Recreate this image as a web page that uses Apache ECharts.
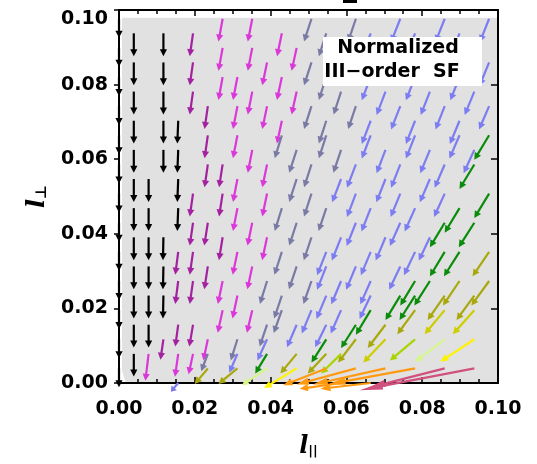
<!DOCTYPE html>
<html><head><meta charset="utf-8">
<script src="https://cdn.jsdelivr.net/npm/echarts@6/dist/echarts.min.js"></script>
<style>html,body{margin:0;padding:0;background:#fff}#chart{width:537px;height:464px}</style>
</head><body><div id="chart"></div>
<script>
// Lag lattice spacing (box units); every arrow tail sits on a lattice point (k, m).
const CELL = 1 / 256;

// Arrows grouped by colour. Each entry: [k, m, du, dv]
// tail at (k, m) cells, arrow vector (du, dv) in cells.
const blackArrows = [
  [0,1,0,-1.3],[0,3,0,-1.3],[0,5,0,-1.3],[0,7,0,-1.3],[0,9,0,-1.3],[0,11,0,-1.3],[0,13,0,-1.3],
  [0,15,0,-1.3],[0,17,0,-1.3],[0,19,0,-1.3],[0,21,0,-1.3],[0,23,0,-1.3],[0,25,0,-1.3],
  [1,2,0,-1.55],[1,4,0,-1.57],[1,6,0,-1.57],[1,8,0,-1.57],[1,10,0,-1.57],[1,12,0,-1.57],
  [1,14,0,-1.57],[1,16,0,-1.57],[1,18,0,-1.57],[1,20,0,-1.57],[1,22,0,-1.57],[1,24,0,-1.57],
  [2,4,0,-1.57],[2,6,0,-1.57],[2,8,0,-1.57],[2,10,0,-1.57],[2,12,0,-1.57],[2,14,0,-1.57],
  [3,6,-0.03,-1.57],[3,8,-0.03,-1.57],[3,10,-0.03,-1.57],[3,16,0,-1.57],[3,18,0,-1.57],
  [3,20,0,-1.57],[3,22,0,-1.57],[3,24,0,-1.57],
  [4,12,-0.06,-1.57],[4,14,-0.06,-1.57],[4,16,-0.06,-1.57],[4,18,-0.06,-1.57]
];
const darkMagentaArrows = [
  [3,3,-0.2,-1.4],[4,9,-0.2,-1.57],[4,7,-0.2,-1.57],[4,4,-0.2,-1.5],
  [5,24,-0.22,-1.57],[5,22,-0.22,-1.57],[5,20,-0.22,-1.57],[5,13,-0.22,-1.57],[5,11,-0.22,-1.57],
  [5,9,-0.22,-1.57],[5,7,-0.22,-1.57],[5,4,-0.25,-1.5],
  [6,19,-0.22,-1.57],[6,17,-0.22,-1.57],[6,15,-0.22,-1.57],[6,11,-0.24,-1.57],[6,8,-0.24,-1.57],
  [7,15,-0.24,-1.57],[7,13,-0.24,-1.57],[7,10,-0.25,-1.57]
];
const magentaArrows = [
  [7,25,-0.28,-1.57],[9,25,-0.3,-1.57],[11,24,-0.32,-1.57],[7,23,-0.28,-1.57],[9,23,-0.3,-1.57],
  [12,23,-0.34,-1.57],[10,22,-0.32,-1.57],[7,21,-0.28,-1.57],[8,21,-0.3,-1.57],[11,21,-0.33,-1.57],
  [9,20,-0.3,-1.57],[12,20,-0.34,-1.57],[8,19,-0.3,-1.57],[10,19,-0.32,-1.57],[11,18,-0.33,-1.57],
  [8,17,-0.3,-1.57],[9,16,-0.3,-1.57],[10,15,-0.32,-1.57],[8,14,-0.3,-1.57],[10,13,-0.32,-1.57],
  [8,12,-0.3,-1.57],[9,11,-0.32,-1.57],[10,10,-0.33,-1.57],[8,9,-0.32,-1.57],[9,8,-0.33,-1.57],
  [7,7,-0.32,-1.57],[8,6,-0.33,-1.57],[7,5,-0.33,-1.55],[9,5,-0.36,-1.55],[6,3,-0.3,-1.45],
  [2,2,-0.22,-1.85],[4,2,-0.22,-1.57],[5,2,-0.3,-1.4]
];
const slateArrows = [
  [13,25,-0.5,-1.57],[16,25,-0.52,-1.57],[14,24,-0.5,-1.57],[15,23,-0.5,-1.57],[13,22,-0.5,-1.57],
  [16,22,-0.52,-1.57],[14,21,-0.5,-1.57],[15,20,-0.5,-1.57],[13,19,-0.5,-1.57],[16,19,-0.52,-1.57],
  [14,18,-0.5,-1.57],[11,17,-0.48,-1.57],[14,17,-0.5,-1.57],[12,16,-0.5,-1.57],[15,16,-0.52,-1.57],
  [13,15,-0.5,-1.57],[12,14,-0.5,-1.57],[13,13,-0.5,-1.57],[11,12,-0.48,-1.57],[14,12,-0.52,-1.57],
  [12,11,-0.5,-1.57],[13,10,-0.52,-1.57],[11,9,-0.5,-1.57],[12,8,-0.52,-1.57],[10,7,-0.48,-1.57],
  [13,7,-0.54,-1.57],[11,6,-0.52,-1.57],[11,5,-0.55,-1.57],[10,4,-0.5,-1.5],[8,3,-0.45,-1.45],
  [6,2,-0.45,-1.2]
];
const blueArrows = [
  [19,25,-0.62,-1.6],[22,25,-0.62,-1.6],[25,25,-0.62,-1.6],[17,24,-0.6,-1.6],[20,24,-0.62,-1.6],
  [23,24,-0.62,-1.6],[18,23,-0.6,-1.6],[21,23,-0.62,-1.6],[24,23,-0.62,-1.6],[19,22,-0.62,-1.6],
  [22,22,-0.62,-1.6],[25,22,-0.65,-1.6],[17,21,-0.6,-1.6],[20,21,-0.62,-1.6],[23,21,-0.62,-1.6],
  [18,20,-0.6,-1.6],[21,20,-0.62,-1.6],[24,20,-0.65,-1.6],[19,19,-0.62,-1.6],[22,19,-0.62,-1.6],
  [25,19,-0.68,-1.6],[17,18,-0.6,-1.6],[20,18,-0.62,-1.6],[23,18,-0.65,-1.6],[17,17,-0.6,-1.6],
  [20,17,-0.62,-1.6],[23,17,-0.68,-1.6],[18,16,-0.6,-1.6],[21,16,-0.65,-1.6],[24,16,-0.72,-1.6],
  [16,15,-0.6,-1.6],[19,15,-0.62,-1.6],[22,15,-0.68,-1.6],[15,14,-0.6,-1.6],[18,14,-0.62,-1.6],
  [21,14,-0.68,-1.6],[16,13,-0.6,-1.6],[19,13,-0.65,-1.6],[22,13,-0.72,-1.6],[17,12,-0.62,-1.6],
  [20,12,-0.7,-1.6],[16,11,-0.62,-1.6],[19,11,-0.7,-1.6],[15,10,-0.62,-1.6],[18,10,-0.66,-1.6],
  [21,10,-0.75,-1.6],[14,9,-0.62,-1.6],[17,9,-0.66,-1.6],[20,9,-0.75,-1.6],[14,8,-0.62,-1.6],
  [16,8,-0.66,-1.6],[19,8,-0.75,-1.6],[15,7,-0.66,-1.6],[17,7,-0.7,-1.6],[14,6,-0.66,-1.6],
  [17,6,-0.75,-1.6],[13,5,-0.65,-1.6],[15,5,-0.7,-1.6],[12,4,-0.65,-1.55],[14,4,-0.75,-1.55],
  [10,3,-0.65,-1.45],[8,2,-0.55,-1.3],[4,0,-0.5,-0.6]
];
const greenArrows = [
  [25,17,-1.0,-1.68],[24,15,-1.0,-1.68],[25,13,-1.0,-1.68],[23,12,-1.0,-1.68],[22,11,-1.0,-1.68],
  [24,11,-1.05,-1.68],[22,9,-1.0,-1.68],[23,9,-1.05,-1.68],[20,7,-1.0,-1.68],[21,7,-1.05,-1.68],
  [19,6,-1.0,-1.68],[20,6,-1.05,-1.68],[17,5,-1.0,-1.68],[16,4,-1.0,-1.6],[14,3,-1.0,-1.6],
  [10,2,-0.8,-1.35]
];
const oliveArrows = [
  [25,9,-1.12,-1.68],[23,7,-1.12,-1.68],[25,7,-1.2,-1.68],[22,6,-1.15,-1.68],[24,6,-1.2,-1.68],
  [20,5,-1.2,-1.65],[18,4,-1.2,-1.6],[16,3,-1.2,-1.6],[12,2,-1.1,-1.35],[14,2,-1.25,-1.35],
  [6,1,-0.88,-1.07],[8,1,-1.28,-1.07]
];
const mustardArrows = [
  [22,5,-1.35,-1.65],[24,5,-1.45,-1.65],[18,3,-1.5,-1.6]
];
const limeArrows = [
  [20,3,-1.7,-1.45],[15,2,-1.35,-1.35]
];
const paleArrows = [
  [22,3,-2.0,-1.55],[10,1,-1.7,-1.15]
];
const yellowArrows = [
  [24,3,-2.3,-1.55],[12,1,-2.2,-1.35]
];
const orangeArrows = [
  [14,1,-2.9,-1.15],[16,1,-4.0,-1.1],[18,1,-4.9,-1.1],[20,1,-5.9,-1.1],
  [15,0,-2.8,-0.4],[17,0,-3.4,-0.4]
];
const pinkArrows = [
  [22,1,-5.07,-1.3],[24,1,-7.75,-1.5]
];

const arrowGroups = [
  { name: 'black', color: '#000000', data: blackArrows },
  { name: 'darkMagenta', color: '#a3229f', data: darkMagentaArrows },
  { name: 'magenta', color: '#da38d8', data: magentaArrows },
  { name: 'slate', color: '#7a7aa6', data: slateArrows },
  { name: 'blue', color: '#7d7df2', data: blueArrows },
  { name: 'green', color: '#0a8c0a', data: greenArrows },
  { name: 'olive', color: '#a8a80c', data: oliveArrows },
  { name: 'mustard', color: '#cdcd00', data: mustardArrows },
  { name: 'lime', color: '#a8d400', data: limeArrows },
  { name: 'pale', color: '#d6f58a', data: paleArrows },
  { name: 'yellow', color: '#fff200', data: yellowArrows },
  { name: 'orange', color: '#ff9a10', data: orangeArrows },
  { name: 'pink', color: '#d0507e', data: pinkArrows }
];

// Region of the (l_par, l_perp) plane covered by the sampled lags
const coverage = [[0.0008, 0.0032], [0.0008, 0.0979], [0.1, 0.0979], [0.1, 0], [0.0018, 0]];

const chart = echarts.init(document.getElementById('chart'), null, { renderer: 'canvas' });

function arrowRenderer(color) {
  return function (params, api) {
    const x = api.value(0), y = api.value(1), u = api.value(2), v = api.value(3);
    const p0 = api.coord([x, y]);
    const p1 = api.coord([x + u, y + v]);
    const dx = p1[0] - p0[0], dy = p1[1] - p0[1];
    const len = Math.hypot(dx, dy) || 1;
    const ux = dx / len, uy = dy / len;
    const hl = Math.min(len * 0.45, Math.max(7, 0.2 * len)), hw = 3.6;
    const bx = p1[0] - ux * hl, by = p1[1] - uy * hl;
    const nx = -uy, ny = ux;
    return {
      type: 'group',
      children: [
        { type: 'line', shape: { x1: p0[0], y1: p0[1], x2: bx + ux, y2: by + uy },
          style: { stroke: color, lineWidth: 2.2, lineCap: 'butt' } },
        { type: 'polygon', shape: { points: [[p1[0], p1[1]], [bx + nx * hw, by + ny * hw], [bx - nx * hw, by - ny * hw]] },
          style: { fill: color } }
      ]
    };
  };
}

const labelFont = { fontFamily: 'DejaVu Sans', fontSize: 19, fontWeight: 'bold', color: '#000' };

const series = [{
  type: 'custom',
  name: 'coverage',
  silent: true,
  z: 1,
  data: [0],
  renderItem: function (params, api) {
    return { type: 'polygon', shape: { points: coverage.map(p => api.coord(p)) }, style: { fill: '#e1e1e1' } };
  }
}];
arrowGroups.forEach(g => {
  series.push({
    type: 'custom',
    name: g.name,
    z: 6,
    clip: false,
    silent: true,
    data: g.data.map(a => [a[0] * CELL, a[1] * CELL, a[2] * CELL, a[3] * CELL]),
    renderItem: arrowRenderer(g.color)
  });
});

const axisCommon = {
  type: 'value', min: 0, max: 0.1, interval: 0.02, z: 4,
  axisLine: { show: true, onZero: false, lineStyle: { color: '#000', width: 2 } },
  splitLine: { show: false }
};
const tickStyle = { color: '#000', width: 1.5 };

chart.setOption({
  animation: false,
  backgroundColor: '#fff',
  grid: { left: 119, right: 39, top: 10, bottom: 73, containLabel: false },
  xAxis: [
    Object.assign({}, axisCommon, {
      position: 'bottom',
      axisTick: { show: true, inside: true, length: 6, lineStyle: tickStyle },
      minorTick: { show: true, splitNumber: 4, length: 4, lineStyle: tickStyle },
      axisLabel: Object.assign({ margin: 17, formatter: v => v.toFixed(2) }, labelFont),
      name: '{l|l}{s|||}', nameLocation: 'middle', nameGap: 52,
      nameTextStyle: { rich: {
        l: { fontFamily: 'DejaVu Serif', fontStyle: 'italic', fontWeight: 'bold', fontSize: 24, color: '#000' },
        s: { fontFamily: 'DejaVu Sans', fontWeight: 'bold', fontSize: 13, color: '#000', padding: [10, 0, 0, 0] }
      } }
    }),
    Object.assign({}, axisCommon, {
      position: 'top',
      axisTick: { show: true, inside: true, length: 6, lineStyle: tickStyle },
      minorTick: { show: true, splitNumber: 4, length: 4, lineStyle: tickStyle },
      axisLabel: { show: false }
    })
  ],
  yAxis: [
    Object.assign({}, axisCommon, {
      position: 'left',
      axisTick: { show: true, inside: false, length: 5, lineStyle: tickStyle },
      axisLabel: Object.assign({ margin: 11, formatter: v => v.toFixed(2), verticalAlignMaxLabel: 'top' }, labelFont),
      name: '{l|l}{s|⊥}', nameLocation: 'middle', nameGap: 69, nameRotate: 90,
      nameTextStyle: { rich: {
        l: { fontFamily: 'DejaVu Serif', fontStyle: 'italic', fontWeight: 'bold', fontSize: 24, color: '#000' },
        s: { fontFamily: 'DejaVu Sans', fontWeight: 'bold', fontSize: 15, color: '#000', padding: [10, 0, 0, 0] }
      } }
    }),
    Object.assign({}, axisCommon, {
      position: 'right',
      axisTick: { show: true, inside: true, length: 7, lineStyle: tickStyle },
      axisLabel: { show: false }
    })
  ],
  graphic: [
    { type: 'rect', left: 323, top: 37, shape: { width: 159, height: 49 }, style: { fill: '#fff' }, z: 10 },
    { type: 'text', x: 398, y: 48, z: 11, style: { text: 'Normalized', fill: '#000', font: 'bold 19px "DejaVu Sans"', align: 'center', verticalAlign: 'middle' } },
    { type: 'text', x: 392, y: 72, z: 11, style: { text: 'III−order  SF', fill: '#000', font: 'bold 19px "DejaVu Sans"', align: 'center', verticalAlign: 'middle' } },
    { type: 'rect', left: 343, top: 0, shape: { width: 14, height: 3 }, style: { fill: '#000' } }
  ],
  series: series
});
</script>
</body></html>
